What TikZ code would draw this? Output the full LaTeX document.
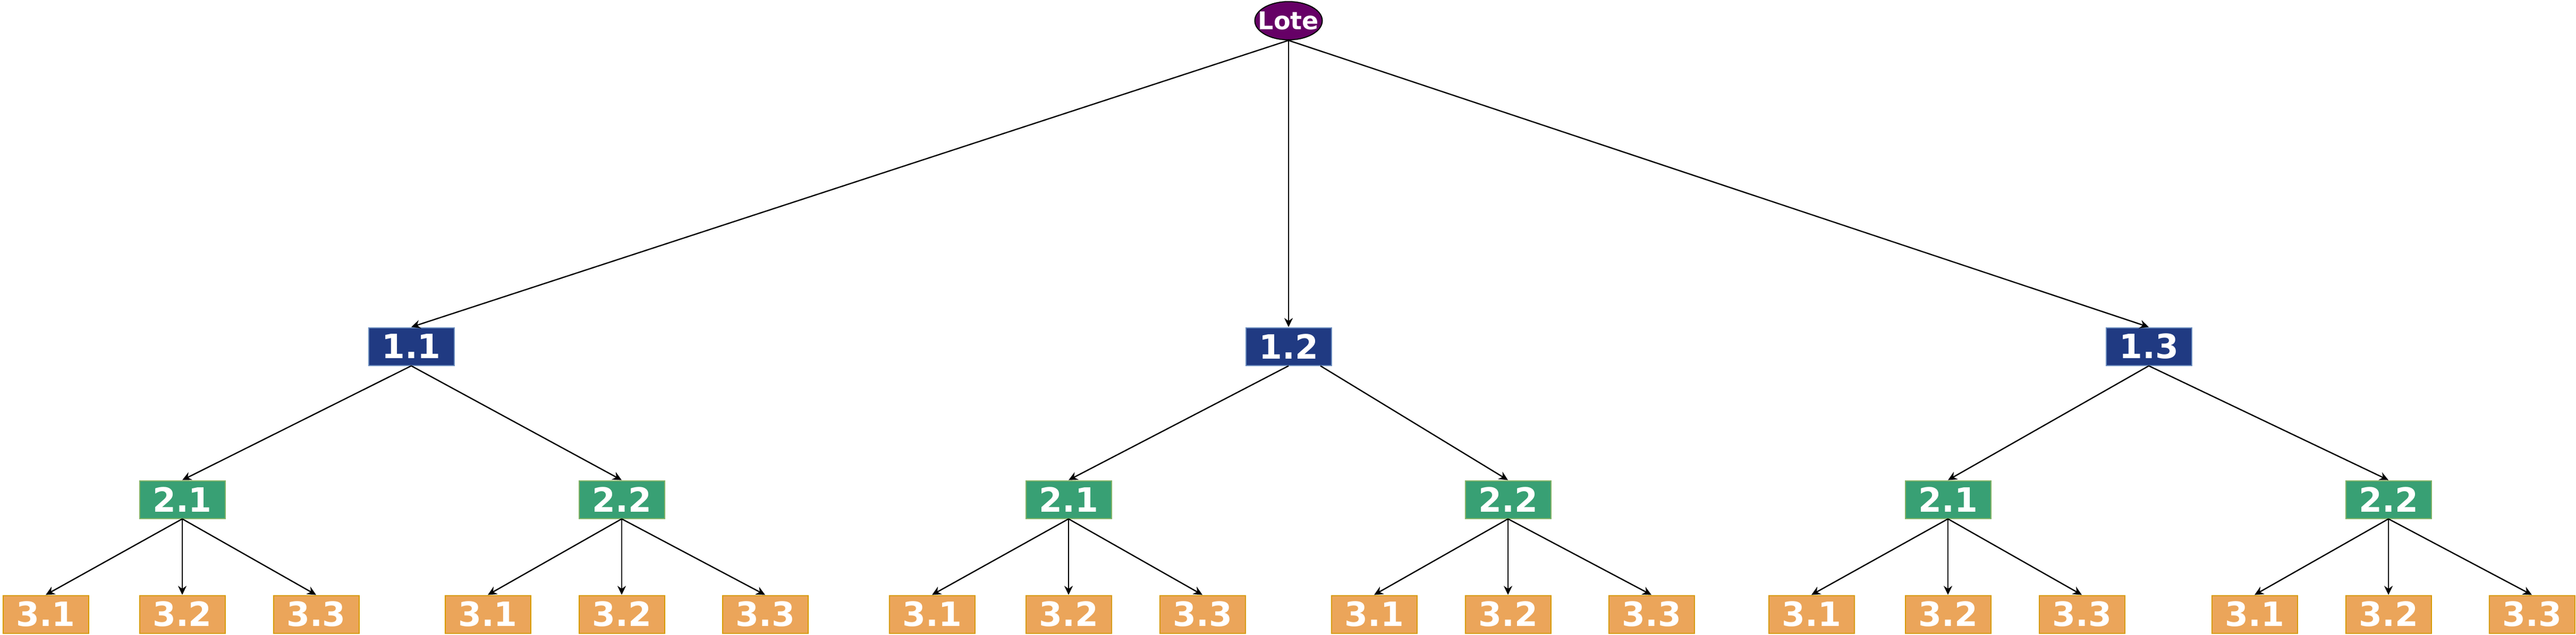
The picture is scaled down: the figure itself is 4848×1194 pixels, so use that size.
\documentclass[tikz,border=0pt]{standalone}
\usepackage{fontspec}
\setmainfont{DejaVu Sans}
\usetikzlibrary{positioning,shapes.geometric,arrows.meta}
\definecolor{lotefill}{HTML}{660066}
\definecolor{onefill}{HTML}{203A82}
\definecolor{oneline}{HTML}{6C8EBF}
\definecolor{twofill}{HTML}{38A074}
\definecolor{twoline}{HTML}{82B366}
\definecolor{threefill}{HTML}{EBA55A}
\definecolor{threeline}{HTML}{D79B00}
\tikzset{topnode/.style={ellipse, draw=black, fill=lotefill, line width=2pt, text=white, font=\bfseries\fontsize{46}{48}\selectfont, minimum width=127pt, minimum height=72pt, inner xsep=-20pt, inner ysep=4pt},
  box/.style={rectangle, line width=2pt, text=white, font=\bfseries\fontsize{63}{65}\selectfont, minimum width=161pt, minimum height=71pt, inner sep=0pt},
  boxone/.style={box, draw=oneline, fill=onefill},
  boxtwo/.style={box, draw=twoline, fill=twofill},
  boxthree/.style={box, draw=threeline, fill=threefill},
  arr/.style={-{Stealth[length=17pt, width=16pt]}, line width=2.4pt, black}}

\begin{document}
\begin{tikzpicture}[x=1pt, y=-1pt, on grid]
    \useasboundingbox (0,0) rectangle (4848,1194);
    \node[topnode] (lote) at (2425,39) {Lote};
    \node[boxone, below left=613pt and 1651pt of lote] (a1) {1.1};
    \node[boxone, below=613pt of lote] (a2) {1.2};
    \node[boxone, below right=613pt and 1619pt of lote] (a3) {1.3};
    \node[boxtwo, below left=288pt and 431pt of a1] (b11) {2.1};
    \node[boxtwo, below right=288pt and 396pt of a1] (b12) {2.2};
    \node[boxtwo, below left=288pt and 414pt of a2] (b21) {2.1};
    \node[boxtwo, below right=288pt and 413pt of a2] (b22) {2.2};
    \node[boxtwo, below left=288pt and 378pt of a3] (b31) {2.1};
    \node[boxtwo, below right=288pt and 451pt of a3] (b32) {2.2};
    \node[boxthree, below left=216pt and 257pt of b11] (c111) {3.1};
    \node[boxthree, below=216pt of b11] (c112) {3.2};
    \node[boxthree, below right=216pt and 252pt of b11] (c113) {3.3};
    \node[boxthree, below left=216pt and 252pt of b12] (c121) {3.1};
    \node[boxthree, below=216pt of b12] (c122) {3.2};
    \node[boxthree, below right=216pt and 270pt of b12] (c123) {3.3};
    \node[boxthree, below left=216pt and 257pt of b21] (c211) {3.1};
    \node[boxthree, below=216pt of b21] (c212) {3.2};
    \node[boxthree, below right=216pt and 252pt of b21] (c213) {3.3};
    \node[boxthree, below left=216pt and 252pt of b22] (c221) {3.1};
    \node[boxthree, below=216pt of b22] (c222) {3.2};
    \node[boxthree, below right=216pt and 270pt of b22] (c223) {3.3};
    \node[boxthree, below left=216pt and 257pt of b31] (c311) {3.1};
    \node[boxthree, below=216pt of b31] (c312) {3.2};
    \node[boxthree, below right=216pt and 252pt of b31] (c313) {3.3};
    \node[boxthree, below left=216pt and 252pt of b32] (c321) {3.1};
    \node[boxthree, below=216pt of b32] (c322) {3.2};
    \node[boxthree, below right=216pt and 270pt of b32] (c323) {3.3};
    \draw[arr] (lote.south) -- (a1.north);
    \draw[arr] (lote.south) -- (a2.north);
    \draw[arr] (lote.south) -- (a3.north);
    \draw[arr] (a1.south) -- (b11.north);
    \draw[arr] (a1.south) -- (b12.north);
    \draw[arr] (a2.south) -- (b21.north);
    \draw[arr] ([xshift=60pt]a2.south) -- (b22.north);
    \draw[arr] (a3.south) -- (b31.north);
    \draw[arr] (a3.south) -- (b32.north);
    \draw[arr] (b11.south) -- (c111.north);
    \draw[arr] (b11.south) -- (c112.north);
    \draw[arr] (b11.south) -- (c113.north);
    \draw[arr] (b12.south) -- (c121.north);
    \draw[arr] (b12.south) -- (c122.north);
    \draw[arr] (b12.south) -- (c123.north);
    \draw[arr] (b21.south) -- (c211.north);
    \draw[arr] (b21.south) -- (c212.north);
    \draw[arr] (b21.south) -- (c213.north);
    \draw[arr] (b22.south) -- (c221.north);
    \draw[arr] (b22.south) -- (c222.north);
    \draw[arr] (b22.south) -- (c223.north);
    \draw[arr] (b31.south) -- (c311.north);
    \draw[arr] (b31.south) -- (c312.north);
    \draw[arr] (b31.south) -- (c313.north);
    \draw[arr] (b32.south) -- (c321.north);
    \draw[arr] (b32.south) -- (c322.north);
    \draw[arr] (b32.south) -- (c323.north);
\end{tikzpicture}
\end{document}
